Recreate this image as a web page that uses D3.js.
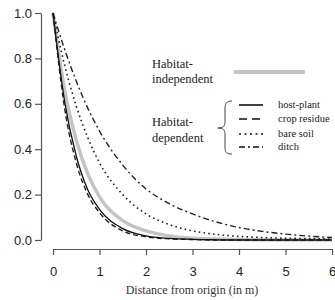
<!DOCTYPE html>
<html lang="en">
<head>
<meta charset="UTF-8">
<title>Dispersal kernels</title>
<script src="https://cdn.jsdelivr.net/npm/d3@7"></script>
<style>
  body { margin: 0; background: #fff; }
  svg { display: block; }
</style>
</head>
<body>
<script>
// distance from origin (m) where the curves were read
const distances = [0, 0.25, 0.5, 0.75, 1, 1.5, 2, 2.5, 3, 3.5, 4, 4.5, 5, 5.5, 6];

// probability values
const independent = [1, 0.66, 0.44, 0.29, 0.19, 0.085, 0.04, 0.018, 0.008, 0.004, 0.002, 0.001, 0, 0, 0];
const hostPlant   = [1, 0.61, 0.37, 0.22, 0.135, 0.05, 0.018, 0.007, 0.003, 0.001, 0, 0, 0, 0, 0];
const cropResidue = [1, 0.58, 0.34, 0.2, 0.12, 0.04, 0.014, 0.005, 0.002, 0, 0, 0, 0, 0, 0];
const bareSoil    = [1, 0.77, 0.59, 0.45, 0.34, 0.2, 0.115, 0.068, 0.04, 0.025, 0.016, 0.011, 0.008, 0.006, 0.004];
const ditch       = [1, 0.84, 0.7, 0.58, 0.48, 0.33, 0.225, 0.16, 0.115, 0.08, 0.055, 0.038, 0.026, 0.017, 0.011];

const xTicks = [0, 1, 2, 3, 4, 5, 6];
const yTicks = [0, 0.2, 0.4, 0.6, 0.8, 1.0];
const depNames = ["host-plant", "crop residue", "bare soil", "ditch"];

const width = 335, height = 300;

const svg = d3.select("body").append("svg")
    .attr("width", width)
    .attr("height", height);

const x = d3.scaleLinear().domain([0, 6]).range([53, 332]);
const y = d3.scaleLinear().domain([0, 1]).range([240, 13]);

// axes, R style (detached)
const yAxis = svg.append("g")
    .attr("transform", "translate(41,0)")
    .call(d3.axisLeft(y).tickValues(yTicks).tickFormat(d3.format(".1f")).tickSize(6).tickSizeOuter(0).tickPadding(3));

const xAxis = svg.append("g")
    .attr("transform", "translate(0,249)")
    .call(d3.axisBottom(x).tickValues(xTicks).tickFormat(d3.format("d")).tickSize(6).tickSizeOuter(0).tickPadding(12));

[xAxis, yAxis].forEach(a => {
  a.selectAll("path, line").attr("stroke", "#555").attr("stroke-width", 1.2);
  a.selectAll("text")
    .attr("fill", "#222")
    .style("font-family", "'Liberation Sans', Arial, sans-serif")
    .style("font-size", "13px");
});

svg.append("text")
    .attr("x", 192)
    .attr("y", 294)
    .attr("text-anchor", "middle")
    .attr("fill", "#333")
    .style("font-family", "'Liberation Serif', 'Times New Roman', serif")
    .style("font-size", "12px")
    .text("Distance from origin (in m)");

const line = d3.line()
    .x((d, i) => x(distances[i]))
    .y(d => y(d))
    .curve(d3.curveMonotoneX);

const series = [
  { values: independent, color: "#c4c4c4", width: 3.5, dash: null },
  { values: ditch, color: "#222", width: 1.4, dash: "6,3,2,3" },
  { values: bareSoil, color: "#222", width: 1.6, dash: "1.6,3.2" },
  { values: cropResidue, color: "#222", width: 1.4, dash: "5,3" },
  { values: hostPlant, color: "#111", width: 1.3, dash: null }
];

svg.append("g").selectAll("path")
  .data(series)
  .join("path")
    .attr("d", d => line(d.values))
    .attr("fill", "none")
    .attr("stroke", d => d.color)
    .attr("stroke-width", d => d.width)
    .attr("stroke-dasharray", d => d.dash);

// legend
const serif = "'Liberation Serif', 'Times New Roman', serif";
const legend = svg.append("g").attr("fill", "#222").style("font-family", serif);

legend.append("text").attr("x", 152).attr("y", 68).style("font-size", "12.5px").text("Habitat-");
legend.append("text").attr("x", 152).attr("y", 83).style("font-size", "12.5px").text("independent");
legend.append("line")
    .attr("x1", 234).attr("x2", 305).attr("y1", 72).attr("y2", 72)
    .attr("stroke", "#c4c4c4").attr("stroke-width", 4);

legend.append("text").attr("x", 152).attr("y", 126).style("font-size", "12.5px").text("Habitat-");
legend.append("text").attr("x", 152).attr("y", 142).style("font-size", "12.5px").text("dependent");

// curly brace
legend.append("path")
    .attr("d", "M232,101 C226,101 225,104 225,109 L225,122 C225,126 223,128 218,128 C223,128 225,130 225,134 L225,147 C225,152 226,154 232,154")
    .attr("fill", "none")
    .attr("stroke", "#444")
    .attr("stroke-width", 1);

const depItems = legend.selectAll("g.item")
  .data(series.slice(1).reverse())
  .join("g")
    .attr("class", "item")
    .attr("transform", (d, i) => `translate(0,${[105, 119, 134, 147][i]})`);

depItems.append("line")
    .attr("x1", 239).attr("x2", 263)
    .attr("stroke", "#111")
    .attr("stroke-width", 1.6)
    .attr("stroke-dasharray", (d, i) => [null, "8,5", "2,3.5", "6,3,2,3"][i]);

depItems.append("text")
    .attr("x", 278)
    .attr("dy", "0.3em")
    .style("font-size", "10.5px")
    .text((d, i) => depNames[i]);
</script>
</body>
</html>
